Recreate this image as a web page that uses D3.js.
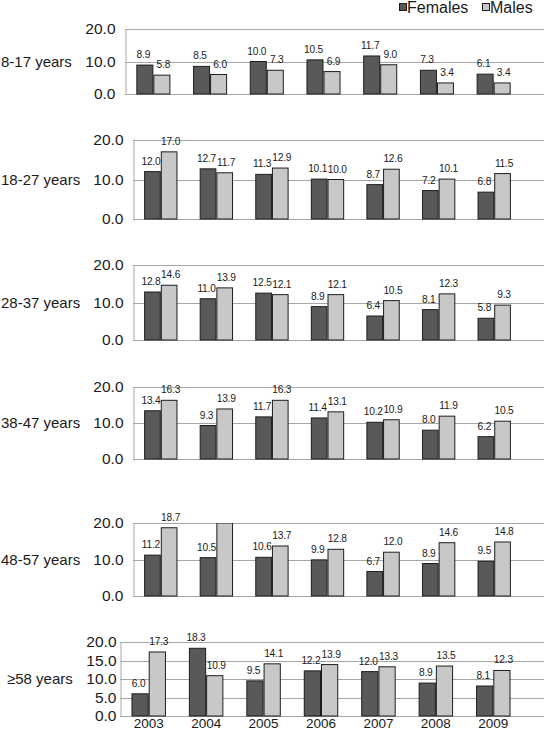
<!DOCTYPE html>
<html>
<head>
<meta charset="utf-8">
<script src="https://cdn.jsdelivr.net/npm/d3@7"></script>
<style>
  html, body { margin: 0; padding: 0; background: #fff; }
  svg { display: block; font-family: "Liberation Sans", Arial, sans-serif; }
</style>
</head>
<body>
<svg id="chart" width="544" height="737"></svg>
<script>
// ---- Data ----
const years = ["2003", "2004", "2005", "2006", "2007", "2008", "2009"];
const ageGroups = ["8-17 years", "18-27 years", "28-37 years", "38-47 years", "48-57 years", "≥58 years"];
const seriesNames = ["Females", "Males"];
const females = [
  [8.9, 8.5, 10.0, 10.5, 11.7, 7.3, 6.1],
  [12.0, 12.7, 11.3, 10.1, 8.7, 7.2, 6.8],
  [12.8, 11.0, 12.5, 8.9, 6.4, 8.1, 5.8],
  [13.4, 9.3, 11.7, 11.4, 10.2, 8.0, 6.2],
  [11.2, 10.5, 10.6, 9.9, 6.7, 8.9, 9.5],
  [6.0, 18.3, 9.5, 12.2, 12.0, 8.9, 8.1]
];
const males = [
  [5.8, 6.0, 7.3, 6.9, 9.0, 3.4, 3.4],
  [17.0, 11.7, 12.9, 10.0, 12.6, 10.1, 11.5],
  [14.6, 13.9, 12.1, 12.1, 10.5, 12.3, 9.3],
  [16.3, 13.9, 16.3, 13.1, 10.9, 11.9, 10.5],
  [18.7, 21.0, 13.7, 12.8, 12.0, 14.6, 14.8],
  [17.3, 10.9, 14.1, 13.9, 13.3, 13.5, 12.3]
];
const tickSets = [
  [0, 10, 20], [0, 10, 20], [0, 10, 20], [0, 10, 20], [0, 10, 20], [0, 5, 10, 15, 20]
];
const yMax = 20;

// ---- Layout (positions / styles) ----
const panels = [
  { left: 125, top: 29,  bottom: 94,  labelX: 1, tickPad: 10 },
  { left: 133, top: 140, bottom: 219, labelX: 1, tickPad: 10 },
  { left: 133, top: 265, bottom: 340, labelX: 1, tickPad: 10 },
  { left: 133, top: 387, bottom: 459, labelX: 1, tickPad: 10 },
  { left: 133, top: 523, bottom: 596, labelX: 1, tickPad: 10 },
  { left: 120, top: 642, bottom: 716, labelX: 7, tickPad: 4 }
];
const rightEdge = 522;
const gridRight = 544;
const colors = { Females: "#595959", Males: "#c8c8c8" };
const labelShift = { Females: -1.5, Males: 1.5 };
const barStroke = "#1e1e1e";
const gridColor = "#a6a6a6";
const textColor = "#1a1a1a";
const fontFamily = '"Liberation Sans", Arial, sans-serif';

const svg = d3.select("#chart");

panels.forEach((p, i) => {
  const g = svg.append("g");
  const x0 = d3.scaleBand().domain(years).range([p.left, rightEdge]).paddingInner(0.4).paddingOuter(0.2);
  const x1 = d3.scaleBand().domain(seriesNames).range([0, x0.bandwidth()]);
  const y = d3.scaleLinear().domain([0, yMax]).range([p.bottom, p.top]);

  // gridlines
  g.selectAll("line.grid").data(tickSets[i]).join("line")
    .attr("x1", p.left).attr("x2", gridRight)
    .attr("y1", d => Math.round(y(d)) + 0.5).attr("y2", d => Math.round(y(d)) + 0.5)
    .attr("stroke", gridColor).attr("stroke-width", 1);

  // y axis via d3.axisLeft
  const yAxis = d3.axisLeft(y).tickValues(tickSets[i]).tickFormat(d3.format(".1f")).tickSize(0).tickPadding(p.tickPad);
  const ax = g.append("g").attr("transform", `translate(${p.left + 0.5},0)`).call(yAxis);
  ax.attr("font-family", fontFamily);
  ax.select(".domain").attr("stroke", gridColor);
  ax.selectAll("text").attr("font-size", 15.5).attr("fill", textColor);

  // clip
  const clipId = "clip" + i;
  svg.append("clipPath").attr("id", clipId).append("rect")
    .attr("x", p.left).attr("y", p.top).attr("width", gridRight - p.left).attr("height", p.bottom - p.top + 1);

  const rows = years.map((yr, j) => ({ year: yr, vals: [
    { s: "Females", v: females[i][j] }, { s: "Males", v: males[i][j] }
  ]}));

  const grp = g.append("g").attr("clip-path", `url(#${clipId})`);
  const gg = grp.selectAll("g.yr").data(rows).join("g")
    .attr("transform", d => `translate(${x0(d.year)},0)`);
  gg.selectAll("rect").data(d => d.vals).join("rect")
    .attr("x", d => x1(d.s) + 0.5)
    .attr("y", d => y(Math.min(d.v, yMax)))
    .attr("width", x1.bandwidth() - 1)
    .attr("height", d => y(0) - y(Math.min(d.v, yMax)))
    .attr("fill", d => colors[d.s])
    .attr("stroke", barStroke).attr("stroke-width", 1);

  // value labels
  const lg = g.selectAll("g.lbl").data(rows).join("g")
    .attr("transform", d => `translate(${x0(d.year)},0)`);
  lg.selectAll("text").data(d => d.vals.filter(v => v.v <= yMax)).join("text")
    .attr("x", d => x1(d.s) + x1.bandwidth() / 2 + labelShift[d.s])
    .attr("y", d => y(d.v) - 7)
    .attr("text-anchor", "middle")
    .attr("font-size", 10.2).attr("letter-spacing", -0.2).attr("fill", textColor)
    .text(d => d3.format(".1f")(d.v));

  // row label
  g.append("text").attr("x", p.labelX).attr("y", y(10)).attr("dy", "0.35em")
    .attr("font-size", 15).attr("fill", textColor).text(ageGroups[i]);

  // year labels on last panel
  if (i === panels.length - 1) {
    const xAxis = d3.axisBottom(x0).tickSize(0).tickPadding(2);
    const xa = g.append("g").attr("transform", `translate(0,${p.bottom})`).call(xAxis);
    xa.attr("font-family", fontFamily);
    xa.select(".domain").remove();
    xa.selectAll("text").attr("font-size", 13.5).attr("fill", textColor);
  }
});

// legend
const legend = svg.append("g");
const legendPos = [{ x: 399, tx: 407 }, { x: 482, tx: 490 }];
seriesNames.forEach((s, k) => {
  legend.append("rect").attr("x", legendPos[k].x + 0.5).attr("y", 3.5).attr("width", 7).attr("height", 7)
    .attr("fill", colors[s]).attr("stroke", barStroke).attr("stroke-width", 1);
  legend.append("text").attr("x", legendPos[k].tx).attr("y", 13)
    .attr("font-size", 16).attr("fill", textColor).text(s);
});
</script>
</body>
</html>
